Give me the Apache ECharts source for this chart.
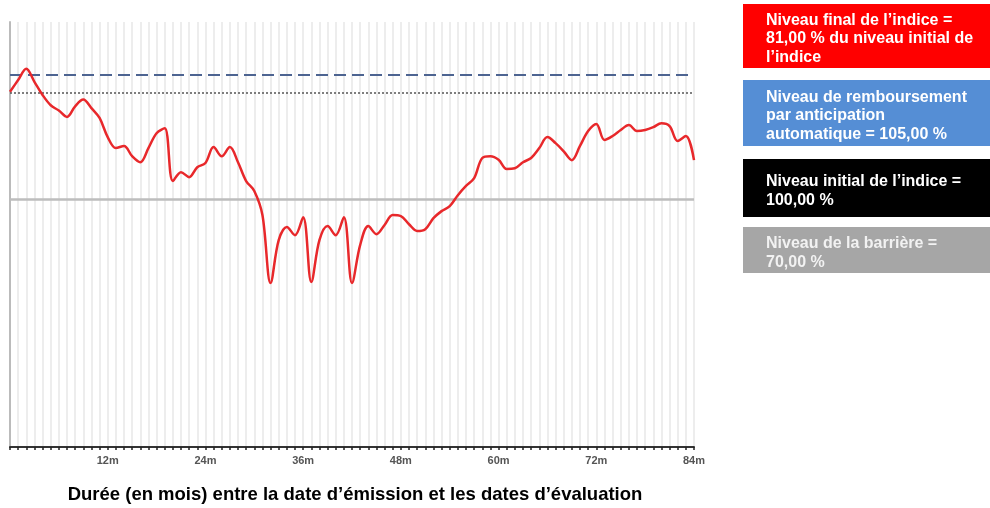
<!DOCTYPE html>
<html>
<head>
<meta charset="utf-8">
<script src="https://cdn.jsdelivr.net/npm/echarts@6/dist/echarts.min.js"></script>
<style>
  html, body { margin: 0; padding: 0; background: #fff; }
  #chart { width: 990px; height: 508px; }
</style>
</head>
<body>
<div id="chart"></div>
<script>
// valeurs (en % du niveau initial), un point par mois
const months = [];
for (let m = 0; m <= 84; m++) months.push(m);
const indexLevel = [
  100.3, 103.6, 106.8, 103.1, 99.4, 96.5, 95.0, 93.2, 96.2, 98.1,
  95.7, 92.9, 87.5, 84.4, 85.0, 82.1, 80.4, 84.4, 88.6, 90.0,
  75.1, 77.6, 76.2, 79.0, 80.2, 84.7, 82.1, 84.7, 80.4, 75.1,
  72.3, 65.5, 46.3, 58.4, 62.1, 59.8, 64.9, 46.6, 58.4, 62.4,
  59.8, 64.9, 46.3, 57.0, 62.4, 60.1, 62.7, 65.5, 65.2, 62.9,
  61.0, 61.5, 64.6, 66.6, 68.0, 71.1, 73.7, 75.9, 81.6, 82.1,
  81.1, 78.5, 78.7, 80.4, 81.6, 84.4, 87.5, 85.8, 83.5, 81.0,
  85.0, 89.2, 91.2, 86.7, 87.8, 89.5, 90.9, 89.2, 89.5, 90.3,
  91.4, 90.6, 86.4, 87.8, 81.0
];
// niveaux de référence
const autocallLevel = 105;
const initialLevel = 100;
const barrierLevel = 70;
// libellés de l'axe des x
const tickMonths = [12, 24, 36, 48, 60, 72, 84];
const tickLabels = ['12m', '24m', '36m', '48m', '60m', '72m', '84m'];
const axisTitle = 'Durée (en mois) entre la date d’émission et les dates d’évaluation';
// légende (texte, couleur de fond)
const legendTexts = [
  'Niveau final de l’indice =\n81,00 % du niveau initial de\nl’indice',
  'Niveau de remboursement\npar anticipation\nautomatique = 105,00 %',
  'Niveau initial de l’indice =\n100,00 %',
  'Niveau de la barrière =\n70,00 %'
];
const legendColors = ['#ff0000', '#558ed5', '#000000', '#a6a6a6'];

const myChart = echarts.init(document.getElementById('chart'));

// encadrés de la légende à droite
const boxes = [
  { y: 4, h: 64 },
  { y: 80, h: 66 },
  { y: 159, h: 58 },
  { y: 227, h: 46 }
];
const legendGraphics = [];
legendTexts.forEach((t, i) => {
  legendGraphics.push({
    type: 'rect',
    shape: { x: 743, y: boxes[i].y, width: 247, height: boxes[i].h },
    style: { fill: legendColors[i] }
  });
  legendGraphics.push({
    type: 'text',
    x: 766,
    y: boxes[i].y + boxes[i].h / 2 + 3,
    style: {
      text: t,
      fill: i === 3 ? '#f2f2f2' : '#ffffff',
      font: 'bold 16px "Liberation Sans", Arial, sans-serif',
      lineHeight: 18.3,
      verticalAlign: 'middle'
    }
  });
});

const option = {
  animation: false,
  backgroundColor: '#ffffff',
  grid: { left: 10, right: 296, top: 22, bottom: 61 },
  xAxis: {
    type: 'value',
    min: 0,
    max: 84,
    interval: 1,
    axisLine: { show: true, lineStyle: { color: '#333', width: 2 } },
    axisTick: { show: true, length: 3, lineStyle: { color: '#222', width: 1.5 } },
    axisLabel: {
      margin: 8,
      color: '#555',
      fontSize: 11,
      fontWeight: 'bold',
      fontFamily: '"Liberation Sans", Arial, sans-serif',
      formatter: (v) => {
        const k = tickMonths.indexOf(v);
        return k >= 0 ? tickLabels[k] : '';
      }
    },
    splitLine: { show: true, lineStyle: { color: '#ededed', width: 2 } }
  },
  yAxis: {
    type: 'value',
    min: 0,
    max: 120,
    axisLine: { show: true, lineStyle: { color: '#bbbbbb', width: 2 } },
    axisTick: { show: false },
    axisLabel: { show: false },
    splitLine: { show: false }
  },
  series: [
    {
      type: 'line',
      data: months.map((m, i) => [m, indexLevel[i]]),
      smooth: 0.35,
      showSymbol: false,
      lineStyle: { color: '#e8282b', width: 2.5 },
      z: 5,
      markLine: {
        silent: true,
        symbol: 'none',
        label: { show: false },
        data: [
          { yAxis: autocallLevel, lineStyle: { color: '#4d6491', width: 2, type: [12, 6] } },
          { yAxis: initialLevel, lineStyle: { color: '#555', width: 1.5, type: [2, 2] } },
          { yAxis: barrierLevel, lineStyle: { color: '#bdbdbd', width: 2.5, type: 'solid' } }
        ]
      }
    }
  ],
  graphic: legendGraphics.concat([
    {
      type: 'text',
      x: 355,
      y: 495,
      style: {
        text: axisTitle,
        fill: '#000',
        font: 'bold 18.5px "Liberation Sans", Arial, sans-serif',
        align: 'center',
        verticalAlign: 'middle'
      }
    }
  ])
};

myChart.setOption(option);
</script>
</body>
</html>
